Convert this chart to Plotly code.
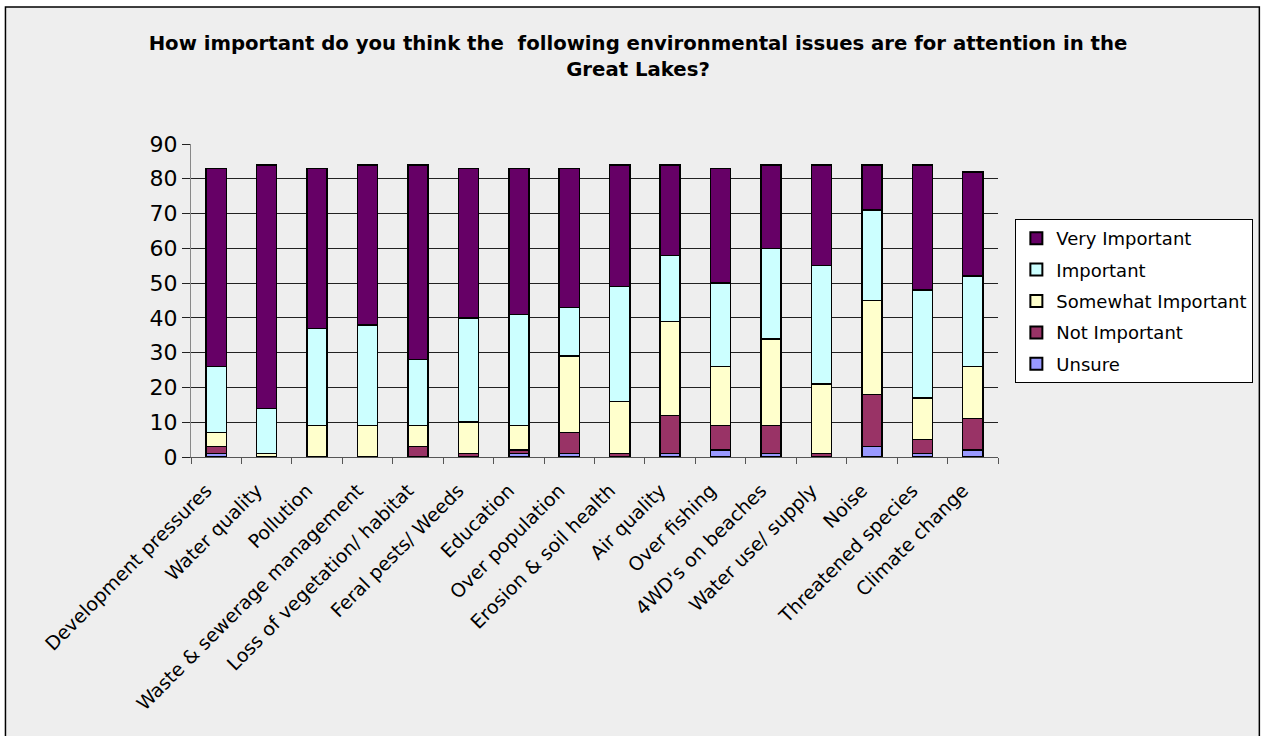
import plotly.graph_objects as go

# Survey responses per environmental issue (number of respondents)
issues = [
    "Development pressures", "Water quality", "Pollution",
    "Waste & sewerage management", "Loss of vegetation/ habitat",
    "Feral pests/ Weeds", "Education", "Over population",
    "Erosion & soil health", "Air quality", "Over fishing",
    "4WD's on beaches", "Water use/ supply", "Noise",
    "Threatened species", "Climate change",
]
unsure = [1, 0, 0, 0, 0, 0, 1, 1, 0, 1, 2, 1, 0, 3, 1, 2]
not_important = [2, 0, 0, 0, 3, 1, 1, 6, 1, 11, 7, 8, 1, 15, 4, 9]
somewhat_important = [4, 1, 9, 9, 6, 9, 7, 22, 15, 27, 17, 25, 20, 27, 12, 15]
important = [19, 13, 28, 29, 19, 30, 32, 14, 33, 19, 24, 26, 34, 26, 31, 26]
very_important = [57, 70, 46, 46, 56, 43, 42, 40, 35, 26, 33, 24, 29, 13, 36, 30]
y_ticks = [0, 10, 20, 30, 40, 50, 60, 70, 80, 90]

# Stacked bottom to top
series = [
    ("Unsure", unsure, "#9999FF"),
    ("Not Important", not_important, "#993366"),
    ("Somewhat Important", somewhat_important, "#FFFFCC"),
    ("Important", important, "#CCFFFF"),
    ("Very Important", very_important, "#660066"),
]

FONT = "DejaVu Sans"

fig = go.Figure()
for i, (name, vals, color) in enumerate(series):
    fig.add_trace(go.Bar(
        x=issues, y=vals, name=name, legendgroup=name,
        legendrank=1000 - i,
        marker=dict(color=color, line=dict(color="black", width=1.5)),
    ))

W, H = 1265, 736
L, R, T, B = 191, 265, 144, 279
pw, ph = W - L - R, H - T - B

def px_x(p):
    return (p - L) / pw

def px_y(p):
    return (H - B - p) / ph

fig.update_layout(
    width=W, height=H, autosize=False,
    margin=dict(l=L, r=R, t=T, b=B),
    barmode="stack", bargap=0.6,
    paper_bgcolor="white", plot_bgcolor="rgba(0,0,0,0)",
    font=dict(family=FONT, color="black"),
    title=dict(
        text="<b>How important do you think the  following environmental issues are for attention in the<br>Great Lakes?</b>",
        x=638 / W, xanchor="center", xref="container",
        y=1 - 50 / H, yanchor="top", yref="container",
        font=dict(family=FONT, size=19.7, color="black"),
    ),
    legend=dict(
        traceorder="grouped", tracegroupgap=5,
        x=px_x(1256), xanchor="right", y=px_y(219), yanchor="top",
        bgcolor="white", bordercolor="black", borderwidth=1,
        font=dict(family=FONT, size=18, color="black"),
        itemsizing="constant",
    ),
    shapes=[dict(
        type="rect", xref="paper", yref="paper", layer="below",
        x0=px_x(5), x1=px_x(1262), y0=px_y(745), y1=px_y(7),
        fillcolor="#EEEEEE", line=dict(color="black", width=1.5),
    )],
)

fig.update_xaxes(
    type="category", tickangle=-45, tickson="boundaries",
    ticks="outside", ticklen=6, tickcolor="#555555",
    ticklabelstandoff=14, ticklabelshift=-10,
    showline=True, linecolor="#555555", linewidth=1,
    showgrid=False,
    tickfont=dict(family=FONT, size=19, color="black"),
)
fig.update_yaxes(
    range=[0, 90], tickvals=y_ticks, ticks="outside", ticklen=8,
    tickcolor="#222222",
    showline=True, linecolor="#888888", linewidth=1,
    showgrid=True, gridcolor="#222222", gridwidth=1,
    zeroline=False,
    tickfont=dict(family=FONT, size=22, color="black"),
)

fig.write_html("out.html")
